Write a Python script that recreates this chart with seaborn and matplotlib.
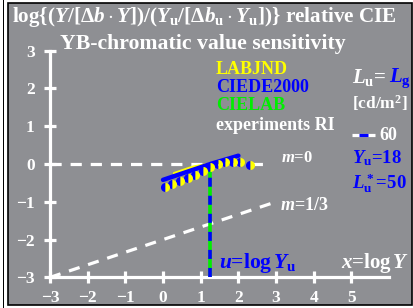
import numpy as np
import pandas as pd
import matplotlib
matplotlib.use("Agg")
import matplotlib.pyplot as plt
from matplotlib.patches import Rectangle
import seaborn as sns

# ---------------- data ----------------
x_ticks = [-3, -2, -1, 0, 1, 2, 3, 4, 5]
y_ticks = [-3, -2, -1, 0, 1, 2, 3]
u_val = np.log10(18)  # u = log Yu

# CIEDE2000 (blue)
ciede_x = [0.0, u_val, 2.0]
ciede_y = [-0.42, 0.0, 0.22]
# LABJND (yellow)
labjnd_x = [0.3, 0.8, u_val]
labjnd_y = [-0.25, -0.08, 0.0]
# experiments RI (markers)
exp_x = [0.05, 0.25, 0.45, 0.65, 0.85, 1.05, 1.25, 1.45, 1.65, 1.85, 2.05, 2.3]
exp_y = [-0.6, -0.52, -0.44, -0.36, -0.28, -0.18, -0.07, 0.01, 0.04, 0.06, 0.05, -0.02]
# reference lines
m0_x = [-3, 2.8]
m0_y = [0, 0]
m13_x = [-3, 3.0]
m13_y = [-3, -1.0]

# ---------------- style ----------------
sns.set_style("ticks")
plt.rcParams['font.family'] = ['Liberation Serif', 'DejaVu Serif']
plt.rcParams['font.weight'] = 'bold'
plt.rcParams['mathtext.fontset'] = 'custom'
plt.rcParams['mathtext.rm'] = 'Liberation Serif:bold'
plt.rcParams['mathtext.it'] = 'Liberation Serif:bold:italic'
plt.rcParams['mathtext.bf'] = 'Liberation Serif:bold'

W, H = 413, 308
fig = plt.figure(figsize=(W / 100, H / 100), dpi=100, facecolor='white')
gray = '#8e8f93'
fig.patches.append(Rectangle((8 / W, 3 / H), (412 - 8) / W, (305 - 3) / H,
                             transform=fig.transFigure, facecolor=gray,
                             edgecolor='black', linewidth=1.2, zorder=-10))
fig.patches.append(Rectangle((3 / W, 0), 1.2 / W, 1, transform=fig.transFigure,
                             facecolor='black', edgecolor='none', zorder=-10))

ax = fig.add_axes([0, 0, 1, 1])
ax.set_facecolor('none')
x0, sx = 163, 37.7
y0, sy = 164, 37.8
ax.set_xlim((0 - x0) / sx, (W - x0) / sx)
ax.set_ylim((y0 - H) / sy, (y0 - 0) / sy)

for s in ['top', 'right']:
    ax.spines[s].set_visible(False)
ax.spines['bottom'].set_position(('data', -3))
ax.spines['left'].set_position(('data', -3))
ax.spines['bottom'].set_bounds(-3, 6)
ax.spines['left'].set_bounds(-3, 3)
for s in ['bottom', 'left']:
    ax.spines[s].set_color('white')
    ax.spines[s].set_linewidth(2.3)
ax.set_xticks(x_ticks)
ax.set_yticks(y_ticks)
ax.set_xticklabels([f"{v}".replace('-', '\u2212') for v in x_ticks])
ax.set_yticklabels([f"{v}".replace('-', '\u2212') for v in y_ticks])
ax.tick_params(axis='both', direction='inout', length=8, width=2.3, color='white',
               labelcolor='white', labelsize=12.5)
ax.tick_params(axis='x', pad=5)
ax.tick_params(axis='y', pad=7)
for lab in ax.get_xticklabels() + ax.get_yticklabels():
    lab.set_fontweight('bold')

# reference dashed lines
ax.plot(m0_x, m0_y, color='white', lw=2.3, dashes=(3.5, 2.8), zorder=2)
ax.plot(m13_x, m13_y, color='white', lw=2.3, dashes=(3.5, 2.8), zorder=2)

# vertical u line (blue / green dashes)
ax.plot([u_val, u_val], [-3, 0], color='#00ee00', lw=2.6, zorder=3, solid_capstyle='butt')
ax.plot([u_val, u_val], [-3, 0], color='blue', lw=2.6, dashes=(2.5, 2.5), zorder=3)

# curves
sns.lineplot(x=labjnd_x, y=labjnd_y, color='yellow', lw=2.2, ax=ax, zorder=4, sort=False)
sns.lineplot(x=ciede_x, y=ciede_y, color='blue', lw=3.2, ax=ax, zorder=5, sort=False)
ax.plot(exp_x, exp_y, ls='none', marker='o', ms=6.5, fillstyle='left',
        markerfacecolor='blue', markerfacecoloralt='yellow', markeredgewidth=0, zorder=6)

# texts
def X(px):
    return (px - x0) / sx

def Y(py):
    return (y0 - py) / sy

ax.text(X(12), Y(17),
        r"log{($Y$/[Δ$b\cdot Y$])/($Y_\mathrm{u}$/[Δ$b_\mathrm{u}\cdot Y_\mathrm{u}$])} relative CIE",
        color='white', fontsize=15.2, fontweight='bold', va='center', ha='left')
ax.text(X(60), Y(44), "YB-chromatic value sensitivity", color='white', fontsize=15.7,
        fontweight='bold', va='center', ha='left')

ax.text(X(216), Y(70), "LABJND", color='yellow', fontsize=13, fontweight='bold', va='center')
ax.text(X(216), Y(88), "CIEDE2000", color='blue', fontsize=13, fontweight='bold', va='center')
ax.text(X(216), Y(106), "CIELAB", color='#00ee00', fontsize=13, fontweight='bold', va='center')
ax.text(X(216), Y(126), "experiments RI", color='white', fontsize=13, fontweight='bold', va='center')

ax.text(X(352), Y(78), r"$L_\mathrm{u}$=", color='white', fontsize=15, va='center')
ax.text(X(389), Y(78), r"$L_\mathrm{g}$", color='blue', fontsize=15, va='center')
ax.text(X(352), Y(103), r"[cd/m$^2$]", color='white', fontsize=12.5, va='center')
ax.plot([X(352), X(375)], [Y(135), Y(135)], color='white', lw=2.3, solid_capstyle='butt')
ax.plot([X(359), X(368)], [Y(135), Y(135)], color='blue', lw=2.3, solid_capstyle='butt')
ax.text(X(379), Y(136), "60", color='white', fontsize=13, va='center')
ax.text(X(352), Y(158), r"$Y_\mathrm{u}$=18", color='blue', fontsize=13.5, va='center')
ax.text(X(352), Y(183), r"$L^*_\mathrm{u}$=50", color='blue', fontsize=13.5, va='center')

ax.text(X(281), Y(158), r"$m$=0", color='white', fontsize=12, va='center')
ax.text(X(280), Y(205), r"$m$=1/3", color='white', fontsize=13, va='center')
ax.text(X(219), Y(263), r"$u$=log$\,Y_\mathrm{u}$", color='blue', fontsize=15.5, va='center')
ax.text(X(341), Y(263), r"$x$=log$\,Y$", color='white', fontsize=15, va='center')

fig.savefig("out.png", dpi=100, facecolor='white')
